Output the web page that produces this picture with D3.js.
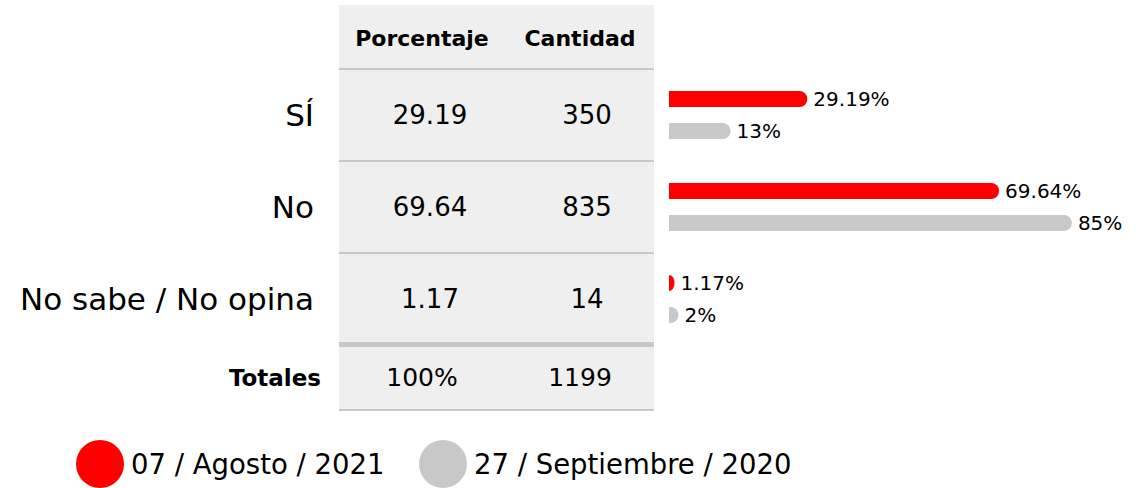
<!DOCTYPE html>
<html>
<head>
<meta charset="utf-8">
<script src="https://cdn.jsdelivr.net/npm/d3@7"></script>
<style>
  body { margin: 0; background: #fff; }
  text { font-family: "DejaVu Sans", Verdana, sans-serif; fill: #000; }
</style>
</head>
<body>
<div id="chart"></div>
<script>
const categories = ["SÍ", "No", "No sabe / No opina"];
const porcentaje = [29.19, 69.64, 1.17];
const cantidad = [350, 835, 14];
const previous = [13, 85, 2];
const headers = ["Porcentaje", "Cantidad"];
const totals = ["100%", "1199"];
const seriesNames = ["07 / Agosto / 2021", "27 / Septiembre / 2020"];
const seriesColors = ["#ff0000", "#c8c8c8"];

const width = 1146, height = 488;

const svg = d3.select("#chart").append("svg")
    .attr("width", width)
    .attr("height", height);

// table frame
const tableLeft = 339, tableRight = 654;
const headTop = 5, headBottom = 69, rowsBottom = 345, tableBottom = 410;

const y = d3.scaleBand()
    .domain(categories)
    .range([headBottom, rowsBottom]);

const col = d3.scalePoint()
    .domain(headers)
    .range([422, 580]);

svg.append("rect")
    .attr("x", tableLeft).attr("y", headTop)
    .attr("width", tableRight - tableLeft).attr("height", tableBottom - headTop)
    .attr("fill", "#efefef");

// separator lines
const lines = [headBottom, ...categories.slice(1).map(c => y(c))];
svg.selectAll(".sep").data(lines).enter().append("rect")
    .attr("x", tableLeft).attr("width", tableRight - tableLeft)
    .attr("y", d => d - 1).attr("height", 2)
    .attr("fill", "#c8c8c8");
svg.append("rect")
    .attr("x", tableLeft).attr("width", tableRight - tableLeft)
    .attr("y", rowsBottom - 3).attr("height", 5).attr("fill", "#c8c8c8");
svg.append("rect")
    .attr("x", tableLeft).attr("width", tableRight - tableLeft)
    .attr("y", tableBottom - 1).attr("height", 2).attr("fill", "#c8c8c8");

// headers
svg.selectAll(".head").data(headers).enter().append("text")
    .attr("x", d => col(d))
    .attr("y", (headTop + headBottom) / 2 + 1)
    .attr("text-anchor", "middle")
    .attr("dominant-baseline", "central")
    .attr("font-weight", "bold")
    .attr("font-size", 22)
    .text(d => d);

// row labels
svg.selectAll(".cat").data(categories).enter().append("text")
    .attr("x", 314)
    .attr("y", d => y(d) + y.bandwidth() / 2)
    .attr("text-anchor", "end")
    .attr("dominant-baseline", "central")
    .attr("font-size", 31)
    .text(d => d);

// cell values
svg.selectAll(".pct").data(categories).enter().append("text")
    .attr("x", col("Porcentaje") + 8)
    .attr("y", d => y(d) + y.bandwidth() / 2)
    .attr("text-anchor", "middle")
    .attr("dominant-baseline", "central")
    .attr("font-size", 26)
    .text((d, i) => porcentaje[i]);

svg.selectAll(".cnt").data(categories).enter().append("text")
    .attr("x", col("Cantidad") + 7)
    .attr("y", d => y(d) + y.bandwidth() / 2)
    .attr("text-anchor", "middle")
    .attr("dominant-baseline", "central")
    .attr("font-size", 26)
    .text((d, i) => cantidad[i]);

// totals
const totY = (rowsBottom + tableBottom) / 2;
svg.append("text")
    .attr("x", 321).attr("y", totY)
    .attr("text-anchor", "end")
    .attr("dominant-baseline", "central")
    .attr("font-weight", "bold")
    .attr("font-size", 23)
    .text("Totales");
svg.selectAll(".tot").data(totals).enter().append("text")
    .attr("x", (d, i) => col(headers[i]))
    .attr("y", totY)
    .attr("text-anchor", "middle")
    .attr("dominant-baseline", "central")
    .attr("font-size", 25)
    .text(d => d);

// bars: flat left edge, rounded right end
const x = d3.scaleLinear().domain([0, 100]).range([669, 1143]);
const barH = 16, r = 8;
const offsets = [-16, 16];

[porcentaje, previous].forEach((vals, s) => {
    const g = svg.append("g");
    g.selectAll("path").data(categories).enter().append("path")
        .attr("d", (d, i) => {
            const cy = y(d) + y.bandwidth() / 2 + offsets[s];
            const x0 = x(0), x1 = x(vals[i]);
            const rx = Math.min(r, x1 - x0);
            const top = cy - barH / 2, bot = cy + barH / 2;
            return `M${x0},${top} H${x1 - rx} A${rx},${r} 0 0 1 ${x1 - rx},${bot} H${x0} Z`;
        })
        .attr("fill", seriesColors[s]);
    g.selectAll("text").data(categories).enter().append("text")
        .attr("x", (d, i) => x(vals[i]) + 6)
        .attr("y", d => y(d) + y.bandwidth() / 2 + offsets[s])
        .attr("dominant-baseline", "central")
        .attr("font-size", 20)
        .text((d, i) => vals[i] + "%");
});

// legend
const legX = [100, 443];
const legend = svg.selectAll(".leg").data(seriesNames).enter().append("g")
    .attr("transform", (d, i) => `translate(${legX[i]},464)`);
legend.append("circle")
    .attr("r", 24)
    .attr("fill", (d, i) => seriesColors[i]);
legend.append("text")
    .attr("x", 31)
    .attr("y", 0)
    .attr("dominant-baseline", "central")
    .attr("font-size", 27.5)
    .text(d => d);
</script>
</body>
</html>
